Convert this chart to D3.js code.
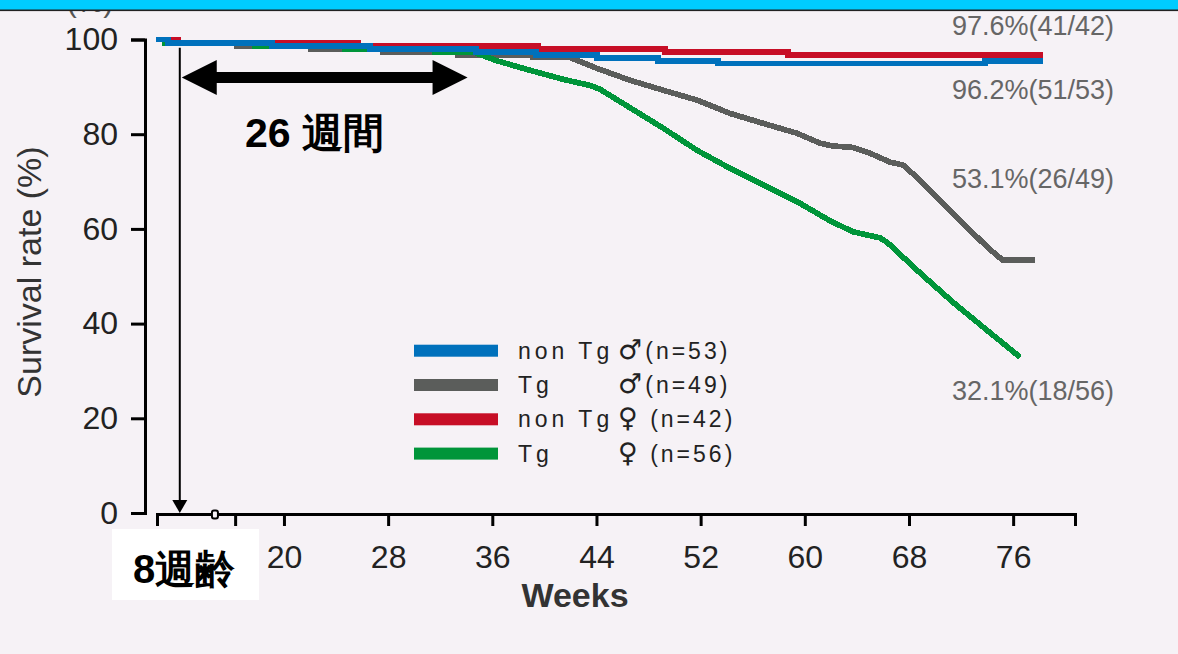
<!DOCTYPE html>
<html>
<head>
<meta charset="utf-8">
<script src="https://cdn.jsdelivr.net/npm/d3@7"></script>
<style>
  html, body { margin: 0; padding: 0; background: #f6f2f6; }
  svg { display: block; }
  text { font-family: "Liberation Sans", Arial, sans-serif; }
</style>
</head>
<body>
<svg id="chart" width="1178" height="654"></svg>
<script>
// survival curves: week -> survival rate (%)
const nonTgMaleWeeks  = [10.17, 11.1, 19.08, 26.61, 34.75, 39.35, 44.04, 48.72, 53.33, 73.84, 78.29];
const nonTgMaleValues = [100, 99.3, 98.6, 98.0, 97.3, 96.7, 96.1, 95.5, 94.9, 95.5, 95.5];

const nonTgFemaleWeeks  = [10.17, 11.86, 25.68, 39.51, 49.26, 58.71, 78.29];
const nonTgFemaleValues = [100, 99.3, 98.6, 98.0, 97.3, 96.7, 96.7];

const tgMaleWeeks  = [10.17, 11.0, 11.0, 16.39, 16.39, 22.07, 22.07, 27.6, 27.6, 33.36, 33.36, 39.12, 39.12, 41.97,
                      44.04, 46.57, 49.11, 51.72, 54.25, 56.79, 59.4, 61.17, 62.17, 63.7, 65.0, 66.54, 67.54,
                      68.85, 71.38, 73.99, 75.15, 77.68];
const tgMaleValues = [100, 100, 99.3, 99.3, 98.6, 98.6, 98.0, 98.0, 97.4, 97.4, 96.8, 96.8, 96.2, 96.2,
                      93.9, 91.4, 89.3, 87.2, 84.4, 82.3, 80.2, 78.1, 77.5, 77.2, 76.0, 74.1, 73.5,
                      70.3, 63.3, 56.2, 53.5, 53.5];

const tgFemaleWeeks  = [10.17, 10.86, 10.86, 17.77, 17.77, 24.69, 24.69, 31.6, 31.6, 34.52,
                        36.36, 38.89, 41.43, 43.5, 44.27, 46.57, 49.11, 51.72, 54.25, 57.1, 59.63,
                        61.94, 63.7, 65.78, 66.31, 68.85, 71.38, 73.99, 76.53];
const tgFemaleValues = [100, 100, 99.3, 99.3, 98.6, 98.6, 98.0, 98.0, 97.4, 97.4,
                        95.5, 93.5, 91.6, 90.3, 89.5, 85.6, 81.3, 76.6, 72.8, 68.9, 65.4,
                        61.7, 59.4, 58.1, 57.2, 50.7, 44.5, 38.6, 32.9];

const xTicks = [16.25, 20, 28, 36, 44, 52, 60, 68, 76];
const xTickLabels = ["", "20", "28", "36", "44", "52", "60", "68", "76"];
const yTicks = [0, 20, 40, 60, 80, 100];

const legendNames = ["non Tg", "Tg", "non Tg", "Tg"];
const legendSymbols = ["\u2642", "\u2642", "\u2640", "\u2640"];
const legendCounts = ["(n=53)", "(n=49)", " (n=42)", " (n=56)"];
const endLabels = ["97.6%(41/42)", "96.2%(51/53)", "53.1%(26/49)", "32.1%(18/56)"];

const span26 = [12.15, 34.1];   // 26 週間 arrow, in weeks
const age8 = 12.0;              // 8週齢 marker, in weeks
const smallMark = 14.7;

const colors = { blue: "#0071bc", gray: "#5b5d5b", red: "#c70e26", green: "#00953a" };

const svg = d3.select("#chart");

const x = d3.scaleLinear().domain([10.25, 80.75]).range([157, 1075]);
const y = d3.scaleLinear().domain([0, 100]).range([513, 39.5]);

svg.append("rect").attr("width", 1178).attr("height", 654).attr("fill", "#f6f2f6");

// unit label, mostly hidden under the top bar as in the source image
svg.append("text").attr("x", 90).attr("y", 12).attr("text-anchor", "middle")
  .attr("font-size", 30).attr("fill", "#555").text("(%)");

// axes
const xAxis = svg.append("g")
  .attr("transform", "translate(0,514)")
  .call(d3.axisBottom(x).tickValues(xTicks).tickFormat((d, i) => xTickLabels[i])
    .tickSize(12).tickSizeOuter(12).tickPadding(19));
const yAxis = svg.append("g")
  .attr("transform", "translate(145,0)")
  .call(d3.axisLeft(y).tickValues(yTicks).tickSize(14).tickSizeOuter(14).tickPadding(13));

[xAxis, yAxis].forEach(g => {
  g.attr("font-family", null).attr("font-size", null);
  g.selectAll("path, line").attr("stroke", "#000").attr("stroke-width", 3);
  g.selectAll("text").attr("font-size", 32).attr("fill", "#222");
});

svg.append("text")
  .attr("transform", "translate(41,272) rotate(-90)")
  .attr("text-anchor", "middle").attr("font-size", 34).attr("fill", "#333")
  .text("Survival  rate (%)");

svg.append("text").attr("x", 575).attr("y", 607).attr("text-anchor", "middle")
  .attr("font-size", 34).attr("font-weight", "bold").attr("fill", "#333").text("Weeks");

// curves
const series = [
  { weeks: tgMaleWeeks, values: tgMaleValues, color: colors.gray, curve: d3.curveLinear },
  { weeks: tgFemaleWeeks, values: tgFemaleValues, color: colors.green, curve: d3.curveLinear },
  { weeks: nonTgFemaleWeeks, values: nonTgFemaleValues, color: colors.red, curve: d3.curveStepAfter },
  { weeks: nonTgMaleWeeks, values: nonTgMaleValues, color: colors.blue, curve: d3.curveStepAfter }
];

series.forEach(s => {
  const pts = s.weeks.map((w, i) => [w, s.values[i]]);
  svg.append("path")
    .datum(pts)
    .attr("fill", "none")
    .attr("stroke", s.color)
    .attr("stroke-width", 5.7)
    .attr("shape-rendering", "crispEdges")
    .attr("d", d3.line().curve(s.curve).x(d => x(d[0])).y(d => y(d[1])));
});

// end labels
const endLabelY = [35, 99, 188, 400];
endLabels.forEach((t, i) => {
  svg.append("text").attr("x", 952).attr("y", endLabelY[i])
    .attr("font-size", 27).attr("fill", "#666").text(t);
});

// legend
const legendColors = [colors.blue, colors.gray, colors.red, colors.green];
legendNames.forEach((name, i) => {
  const cy = 350.7 + i * 34.3;
  svg.append("rect").attr("x", 414).attr("y", cy - 6).attr("width", 84).attr("height", 12)
    .attr("fill", legendColors[i]);
  svg.append("text").attr("x", 518).attr("y", cy + 8).attr("font-size", 23)
    .attr("letter-spacing", 4).attr("fill", "#222").text(name);
  const t = svg.append("text").attr("x", 618).attr("y", cy + 8).attr("font-size", 23)
    .attr("letter-spacing", 3).attr("fill", "#222");
  t.append("tspan").attr("font-size", 27).attr("font-family", "'DejaVu Sans', sans-serif")
    .text(legendSymbols[i]);
  t.append("tspan").text(legendCounts[i]);
});

// 26 週間 double arrow
const ay = 77.5, head = 35, half = 17.5;
const xl = x(span26[0]), xr = x(span26[1]);
svg.append("line").attr("x1", xl + head - 1).attr("x2", xr - head + 1).attr("y1", ay).attr("y2", ay)
  .attr("stroke", "#000").attr("stroke-width", 11);
svg.append("path").attr("fill", "#000")
  .attr("d", `M${xl},${ay}L${xl + head},${ay - half}L${xl + head},${ay + half}Z`);
svg.append("path").attr("fill", "#000")
  .attr("d", `M${xr},${ay}L${xr - head},${ay - half}L${xr - head},${ay + half}Z`);
svg.append("text").attr("x", 245).attr("y", 147)
  .attr("font-family", "'Noto Sans CJK JP', sans-serif")
  .attr("font-size", 41).attr("font-weight", "bold").attr("fill", "#000").text("26 週間");

// 8週齢 arrow
const vx = x(age8);
svg.append("line").attr("x1", vx).attr("x2", vx).attr("y1", 47.7).attr("y2", 501)
  .attr("stroke", "#000").attr("stroke-width", 2);
svg.append("path").attr("fill", "#000")
  .attr("d", `M${vx - 7.5},500L${vx + 7.5},500L${vx},513Z`);

svg.append("rect").attr("x", x(smallMark) - 3).attr("y", 510.5).attr("width", 6).attr("height", 8)
  .attr("rx", 2).attr("fill", "#f6f2f6").attr("stroke", "#000").attr("stroke-width", 2);

svg.append("rect").attr("x", 112).attr("y", 529).attr("width", 147).attr("height", 71).attr("fill", "#fff");
svg.append("text").attr("x", 133).attr("y", 583)
  .attr("font-family", "'Noto Sans CJK JP', sans-serif")
  .attr("font-size", 40).attr("font-weight", "bold").attr("fill", "#000").text("8週齢");

// top bar
svg.append("rect").attr("x", 0).attr("y", 0).attr("width", 1178).attr("height", 10).attr("fill", "#00ccff");
svg.append("rect").attr("x", 0).attr("y", 9.5).attr("width", 1178).attr("height", 1.6).attr("fill", "#222");
</script>
</body>
</html>
